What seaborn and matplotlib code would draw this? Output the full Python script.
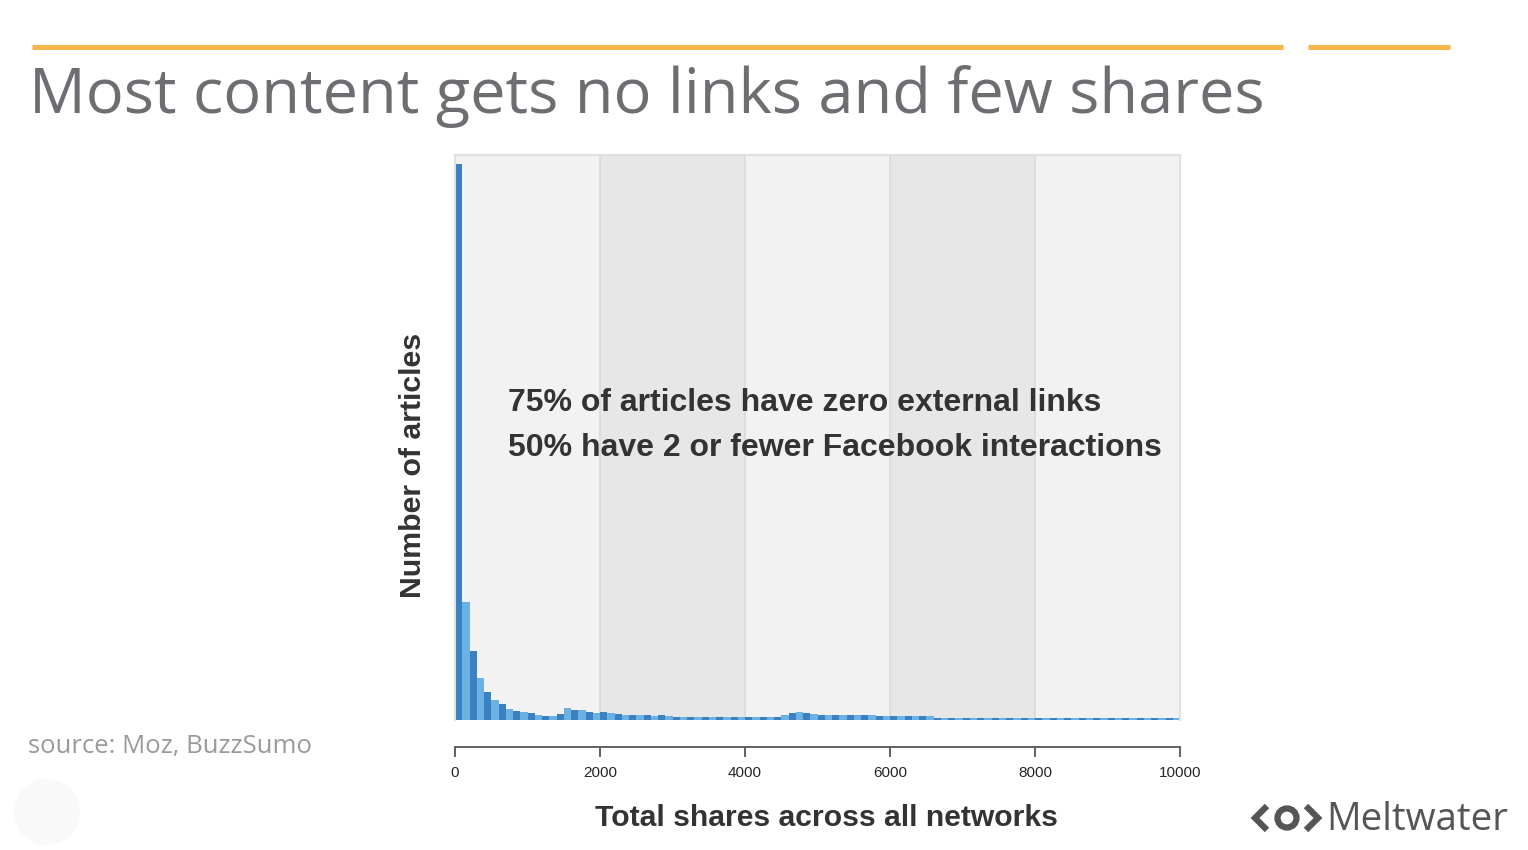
import numpy as np
import pandas as pd
import matplotlib.pyplot as plt
import matplotlib.patches as mpatches
import seaborn as sns

# Histogram of total shares, bins of 100 shares (relative article counts)
bin_width = 100
max_shares = 10000
article_counts = [
    1000, 212, 124, 76, 50, 36, 29, 20, 16, 14,
    13, 9, 7, 7, 11, 22, 18, 18, 14, 13,
    14, 12, 11, 9, 9, 9, 9, 8, 9, 8,
    6, 6, 6, 5, 6, 6, 6, 5, 6, 6,
    6, 6, 5, 6, 6, 9, 13, 14, 12, 10,
    9, 9, 9, 9, 9, 9, 9, 9, 7, 7,
    7, 7, 7, 7, 7, 7, 4, 4, 4, 4,
    3, 4, 4, 4, 3, 4, 4, 4, 4, 3,
    4, 4, 4, 3, 4, 4, 4, 4, 3, 4,
    4, 4, 3, 4, 4, 4, 4, 3, 4, 4,
]
band_edges = [2000, 4000, 6000, 8000]
x_ticks = [0, 2000, 4000, 6000, 8000, 10000]

title = "Most content gets no links and few shares"
note_lines = ["75% of articles have zero external links",
              "50% have 2 or fewer Facebook interactions"]
source = "source: Moz, BuzzSumo"

sns.set_theme(style="white")
plt.rcParams['font.family'] = ['Liberation Sans', 'DejaVu Sans']
slide_font = ["Open Sans", "DejaVu Sans"]

W, H = 1528, 850
fig = plt.figure(figsize=(W / 100, H / 100), dpi=100)
fig.patch.set_facecolor("white")

# main histogram axes, placed in pixel terms
ax = fig.add_axes([455 / W, (H - 720) / H, 725 / W, 565 / H])
ax.set_facecolor("#f2f2f2")
for lo, hi in [(band_edges[0], band_edges[1]), (band_edges[2], band_edges[3])]:
    ax.axvspan(lo, hi, color="#e7e7e7", lw=0, zorder=0)
for b in band_edges:
    ax.axvline(b, color="#dadada", lw=1.2, zorder=0.5)

df = pd.DataFrame({
    "shares": np.arange(len(article_counts)) * bin_width + bin_width / 2,
    "count": article_counts,
})
df["tone"] = np.where(np.arange(len(df)) % 2 == 0, "dark", "light")

sns.histplot(data=df, x="shares", weights="count", hue="tone",
             binwidth=bin_width, binrange=(0, max_shares),
             multiple="stack", palette={"dark": "#3b80c0", "light": "#6cb1e4"},
             alpha=1, linewidth=0, legend=False, ax=ax, zorder=2)

ax.set_xlim(0, max_shares)
ax.set_ylim(0, 1000 * 565 / 556)
ax.set_yticks([])
ax.set_ylabel("")
ax.set_xlabel("")
ax.set_xticks(x_ticks)
ax.set_xticklabels([str(t) for t in x_ticks], fontsize=12.8, color="#3a3a3a")
ax.tick_params(axis="x", direction="out", length=7, width=1.3, color="#555555",
               pad=6.5, bottom=True)
for side in ["top", "left", "right"]:
    ax.spines[side].set_color("#e0e0e0")
    ax.spines[side].set_linewidth(1.5)
ax.spines["bottom"].set_position(("outward", 19.5))
ax.spines["bottom"].set_color("#555555")
ax.spines["bottom"].set_linewidth(1.3)

fig.text(413 / W, 1 - 465 / H, "Number of articles", rotation=90, fontsize=21.8,
         fontweight="bold", color="#333333", ha="center", va="center")
fig.text(826 / W, 1 - 818 / H, "Total shares across all networks", fontsize=21.7,
         fontweight="bold", color="#333333", ha="center", va="center")
for i, line in enumerate(note_lines):
    fig.text(508 / W, 1 - (403 + 45 * i) / H, line, fontsize=23, fontweight="bold",
             color="#333333", ha="left", va="center")

# slide decorations, drawn on an overlay in pixel coordinates
deco = fig.add_axes([0, 0, 1, 1], zorder=-1)
deco.set_xlim(0, W)
deco.set_ylim(H, 0)
deco.axis("off")
deco.plot([32, 1283], [46.5, 46.5], color="#f7b64b", lw=3.6, solid_capstyle="butt")
deco.plot([1308, 1450], [46.5, 46.5], color="#f7b64b", lw=3.6, solid_capstyle="butt")
deco.text(29, 96, title, fontsize=45.5, color="#6d6e71", family=slide_font,
          ha="left", va="center")
deco.text(28, 746, source, fontsize=18.5, color="#9a9a9a", family=slide_font,
          ha="left", va="center")
deco.add_patch(mpatches.Circle((47, 812), 33, color="#f9f9f9", lw=0))

# Meltwater logo
logo = "#555555"
deco.plot([1267, 1255, 1267], [806, 818, 830], color=logo, lw=4.5,
          solid_capstyle="butt", solid_joinstyle="miter")
deco.plot([1306, 1318, 1306], [806, 818, 830], color=logo, lw=4.5,
          solid_capstyle="butt", solid_joinstyle="miter")
deco.add_patch(mpatches.Circle((1287, 818), 9.5, fill=False, ec=logo, lw=4.5))
deco.text(1326, 820, "Meltwater", fontsize=27.8, color=logo,
          family=slide_font, ha="left", va="center")

fig.savefig("out.png", dpi=100, facecolor="white")
